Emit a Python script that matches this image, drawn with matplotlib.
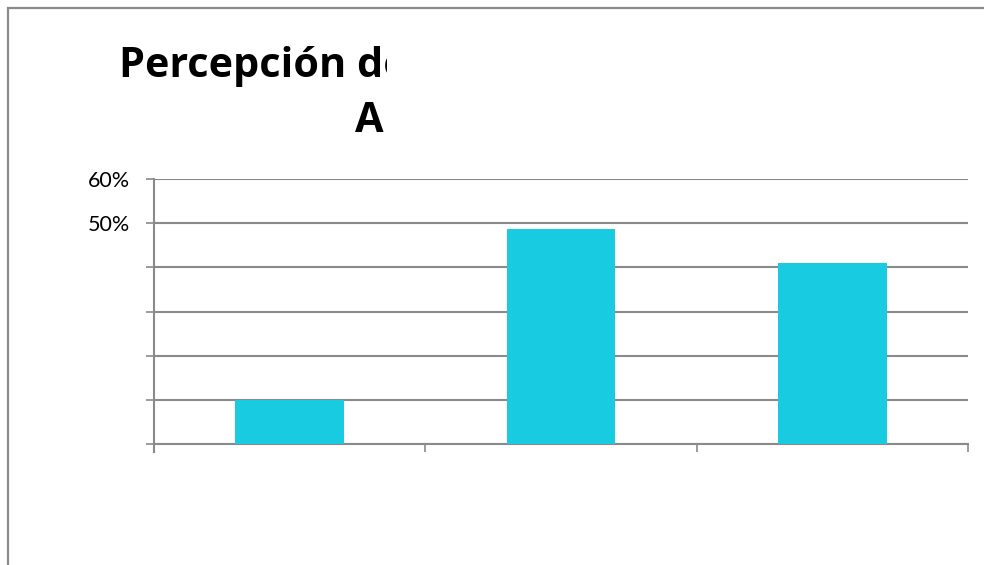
import numpy as np
import matplotlib.pyplot as plt
from matplotlib.patches import Rectangle
from matplotlib.transforms import Bbox

# porcentajes por categoria
valores = [0.10, 0.487, 0.41]
niveles = [0.0, 0.1, 0.2, 0.3, 0.4, 0.5, 0.6]
etiquetas_y = ["", "", "", "", "", "50%", "60%"]

gris = "#8a8a8a"
cian = "#19cbe1"

fig = plt.figure(figsize=(9.84, 5.65), dpi=100)
ax = fig.add_axes([154 / 984, 1 - 444 / 565, 814 / 984, 265 / 565])

x = np.arange(len(valores))
ax.bar(x, valores, width=0.4, color=cian, zorder=3)

ax.set_xlim(-0.5, len(valores) - 0.5)
ax.set_ylim(0, 0.6)
ax.set_yticks(niveles)
ax.set_yticklabels(etiquetas_y, fontfamily="Lato", fontsize=15.5)
ax.set_xticks(np.arange(len(valores) + 1) - 0.5)
ax.set_xticklabels([])

ax.grid(axis="y", color=gris, linewidth=1.5, zorder=1)
for s in ["top", "right"]:
    ax.spines[s].set_visible(False)
for s in ["left", "bottom"]:
    ax.spines[s].set_color(gris)
    ax.spines[s].set_linewidth(1.5)
ax.tick_params(axis="both", color=gris, width=1.2, length=6)
ax.tick_params(axis="y", pad=11)
# eje vertical baja hasta la marca inferior
ax.plot([-0.5, -0.5], [0, -0.018], color=gris, linewidth=1.5, clip_on=False)

# marco del grafico
fig.add_artist(Rectangle((8 / 984, -0.5), 2, 1.5 - 8 / 565, transform=fig.transFigure,
                         fill=False, edgecolor=gris, linewidth=1.6))

# titulo recortado
t1 = fig.text(119 / 984, 1 - 77 / 565, "Percepción de", fontfamily="Open Sans",
              fontweight="bold", fontsize=29.8, ha="left", va="baseline")
t2 = fig.text(355 / 984, 1 - 132 / 565, "Ac", fontfamily="Open Sans",
              fontweight="bold", fontsize=29.8, ha="left", va="baseline")
t1.set_clip_box(Bbox.from_extents(0, 0, 387, 565))
t2.set_clip_box(Bbox.from_extents(0, 0, 384, 565))
for t in (t1, t2):
    t.set_clip_on(True)

fig.savefig("out.png", dpi=100)
